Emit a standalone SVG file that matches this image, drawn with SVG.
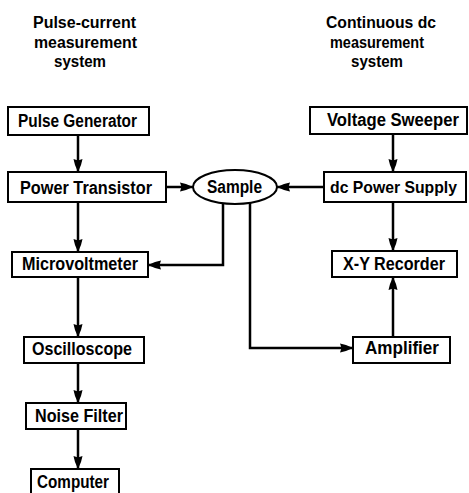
<svg xmlns="http://www.w3.org/2000/svg" width="469" height="493" viewBox="0 0 469 493">
<style>
  .box { fill: #fff; stroke: #000; stroke-width: 2; }
  .lbl { font-family: "Liberation Sans", Arial, sans-serif; font-weight: bold; font-size: 18px; fill: #000; }
  .lbl.sm { font-size: 16.5px; }
  .ttl { font-family: "Liberation Sans", Arial, sans-serif; font-weight: bold; font-size: 16px; fill: #000; }
  .wire { fill: none; stroke: #000; stroke-width: 2.5; marker-end: url(#ah); }
</style>
<defs>
  <marker id="ah" markerUnits="userSpaceOnUse" markerWidth="14" markerHeight="10" refX="13" refY="5" orient="auto">
    <path d="M0,0.5 L6,2 L13,5 L6,8 L0,9.5 L1.5,5 z" fill="#000"/>
  </marker>
</defs>
<rect width="469" height="493" fill="#fff"/>

<g id="title-left">
  <text class="ttl" x="33" y="28" textLength="103" lengthAdjust="spacingAndGlyphs">Pulse-current</text>
  <text class="ttl" x="34" y="48" textLength="103" lengthAdjust="spacingAndGlyphs">measurement</text>
  <text class="ttl" x="54" y="67" textLength="52" lengthAdjust="spacingAndGlyphs">system</text>
</g>
<g id="title-right">
  <text class="ttl" x="326" y="28" textLength="110" lengthAdjust="spacingAndGlyphs">Continuous dc</text>
  <text class="ttl" x="330" y="48" textLength="94" lengthAdjust="spacingAndGlyphs">measurement</text>
  <text class="ttl" x="351" y="67" textLength="52" lengthAdjust="spacingAndGlyphs">system</text>
</g>

<g id="connectors">
  <path class="wire" d="M78,135 L78,172"/>
  <path class="wire" d="M166,187 L193,187"/>
  <path class="wire" d="M78,202 L78,252"/>
  <path class="wire" d="M223,203 L223,265 L148,265"/>
  <path class="wire" d="M78,277 L78,337"/>
  <path class="wire" d="M78,363 L78,403"/>
  <path class="wire" d="M78,429 L78,469"/>
  <path class="wire" d="M393,134 L393,172"/>
  <path class="wire" d="M324,187 L277,187"/>
  <path class="wire" d="M393,202 L393,251"/>
  <path class="wire" d="M250,203 L250,348 L353,348"/>
  <path class="wire" d="M393,337 L393,277"/>
</g>

<g id="pulse-generator">
  <rect class="box" x="8" y="107" width="141" height="28"/>
  <text class="lbl" x="18" y="127" textLength="119" lengthAdjust="spacingAndGlyphs">Pulse Generator</text>
</g>
<g id="power-transistor">
  <rect class="box" x="8" y="172" width="158" height="30"/>
  <text class="lbl" x="20" y="194" textLength="132" lengthAdjust="spacingAndGlyphs">Power Transistor</text>
</g>
<g id="sample">
  <ellipse class="box" cx="235" cy="187" rx="42" ry="17"/>
  <text class="lbl" x="207" y="193" textLength="55" lengthAdjust="spacingAndGlyphs">Sample</text>
</g>
<g id="microvoltmeter">
  <rect class="box" x="12" y="252" width="136" height="25"/>
  <text class="lbl" x="22" y="270" textLength="116" lengthAdjust="spacingAndGlyphs">Microvoltmeter</text>
</g>
<g id="oscilloscope">
  <rect class="box" x="24" y="337" width="120" height="26"/>
  <text class="lbl" x="32" y="355" textLength="100" lengthAdjust="spacingAndGlyphs">Oscilloscope</text>
</g>
<g id="noise-filter">
  <rect class="box" x="26" y="403" width="100" height="26"/>
  <text class="lbl" x="35" y="422" textLength="88" lengthAdjust="spacingAndGlyphs">Noise Filter</text>
</g>
<g id="computer">
  <rect class="box" x="31" y="469" width="88" height="32"/>
  <text class="lbl" x="37" y="488" textLength="72" lengthAdjust="spacingAndGlyphs">Computer</text>
</g>
<g id="voltage-sweeper">
  <rect class="box" x="310" y="107" width="157" height="27"/>
  <text class="lbl" x="327" y="126" textLength="132" lengthAdjust="spacingAndGlyphs">Voltage Sweeper</text>
</g>
<g id="dc-power-supply">
  <rect class="box" x="324" y="172" width="142" height="30"/>
  <text class="lbl sm" x="330" y="193" textLength="127" lengthAdjust="spacingAndGlyphs">dc Power Supply</text>
</g>
<g id="xy-recorder">
  <rect class="box" x="332" y="251" width="125" height="26"/>
  <text class="lbl" x="343" y="270" textLength="102" lengthAdjust="spacingAndGlyphs">X-Y Recorder</text>
</g>
<g id="amplifier">
  <rect class="box" x="353" y="337" width="97" height="26"/>
  <text class="lbl" x="365" y="354" textLength="74" lengthAdjust="spacingAndGlyphs">Amplifier</text>
</g>
</svg>
